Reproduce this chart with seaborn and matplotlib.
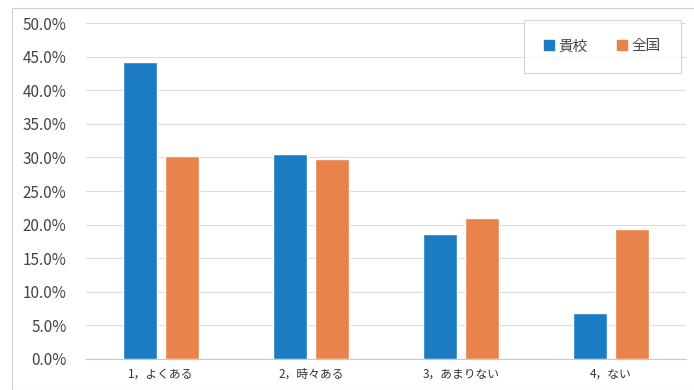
import matplotlib
matplotlib.use("Agg")
import matplotlib.pyplot as plt
import matplotlib.patches as mpatches
from matplotlib.ticker import PercentFormatter
import seaborn as sns
import pandas as pd

# data
categories = ["1，よくある", "2，時々ある", "3，あまりない", "4，ない"]
kikou = [44.2, 30.5, 18.6, 6.8]     # 貴校
zenkoku = [30.2, 29.8, 21.0, 19.3]  # 全国
series = ["貴校", "全国"]
colors = ["#1b7cc4", "#e8834b"]

df = pd.DataFrame({
    "cat": categories * 2,
    "group": [series[0]] * 4 + [series[1]] * 4,
    "value": [v / 100 for v in kikou + zenkoku],
})

sns.set_style("white")
plt.rcParams['font.family'] = ['Noto Sans CJK JP', 'DejaVu Sans']

fig = plt.figure(figsize=(6.94, 3.90), dpi=100)
ax = fig.add_axes([0.124, 0.0795, 0.864, 0.8615])

sns.barplot(data=df, x="cat", y="value", hue="group", palette=colors,
            width=0.56, gap=0.19, saturation=1, ax=ax, legend=False)

ax.set_ylim(0, 0.5)
ax.set_xlim(-0.5, 3.5)
ax.set_yticks([i * 0.05 for i in range(11)])
ax.yaxis.set_major_formatter(PercentFormatter(1.0, decimals=1))
ax.yaxis.grid(True, color="#dddddd", linewidth=0.8)
ax.set_axisbelow(True)
for s in ["top", "right", "left"]:
    ax.spines[s].set_visible(False)
ax.spines["bottom"].set_color("#c8c8c8")
ax.tick_params(axis="y", labelsize=11, colors="#444444", length=0, pad=14)
ax.tick_params(axis="x", labelsize=8.5, colors="#333333", length=0, pad=6)
ax.set_xlabel("")
ax.set_ylabel("")

handles = [mpatches.Patch(color=c, label=l) for c, l in zip(colors, series)]
leg = ax.legend(handles=handles, loc="upper right", ncol=2, fontsize=10.5,
                frameon=True, fancybox=False, handlelength=0.7, handleheight=0.7,
                borderpad=1.35, columnspacing=2.0, handletextpad=0.3,
                borderaxespad=0, bbox_to_anchor=(0.9915, 1.01))
leg.get_frame().set_edgecolor("#cccccc")
leg.get_frame().set_linewidth(0.8)
for t in leg.get_texts():
    t.set_color("#444444")

# outer chart border
fig.add_artist(mpatches.Rectangle((12 / 694, 0.0), 1.0, 1 - 8 / 390,
                                  transform=fig.transFigure, fill=False,
                                  edgecolor="#d0d0d0", linewidth=0.8))

fig.savefig("out.png", dpi=100)
